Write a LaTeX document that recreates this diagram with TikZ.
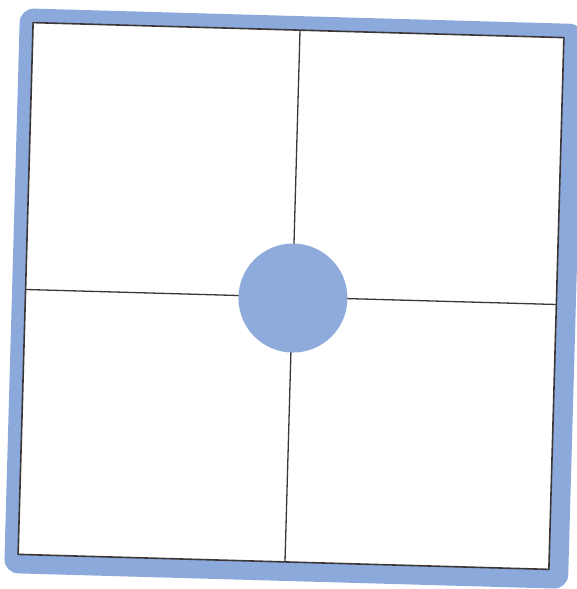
\documentclass[tikz,border=0pt]{standalone}
\definecolor{framebl}{RGB}{140,169,219}
\definecolor{hubbl}{RGB}{143,171,220}
\definecolor{lineg}{RGB}{60,54,56}
\tikzset{
  divider/.style={draw=lineg, line width=1.3pt},
  hubdisc/.style={circle, fill=hubbl, minimum size=109pt, inner sep=0pt},
}
\begin{document}
\begin{tikzpicture}[x=1pt,y=1pt]
\useasboundingbox (0,0) rectangle (576,589);
\fill[white] (0,0) rectangle (576,589);
\begin{scope}[shift={(291,293)}, rotate=-1.62]
  % outer blue frame
  \fill[framebl, rounded corners=14pt] (-279,-285) rectangle (285,280);
  % inner white panel
  \draw[fill=white, draw=lineg, line width=1.6pt] (-265.5,-266) rectangle (265.5,266);
  \coordinate (vt) at (1.5,266);
  \coordinate (vb) at (1.5,-266);
  \coordinate (hl) at (-265.5,-1);
  \coordinate (hr) at (265.5,-1);
  \draw[divider] (vt) -- (vb);
  \draw[divider] (hl) -- (hr);
  \node[hubdisc] (hub) at (2,-2) {};
\end{scope}
\end{tikzpicture}
\end{document}
